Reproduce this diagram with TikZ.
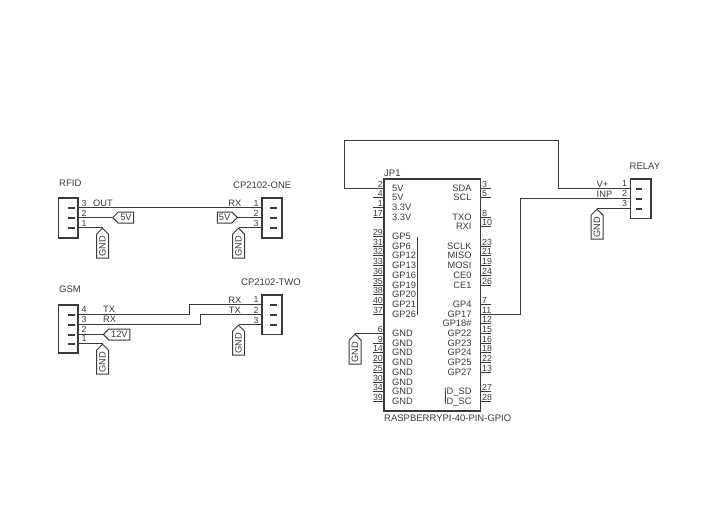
\documentclass[tikz,border=0pt]{standalone}
\usepackage{fontspec}
\setmainfont{Liberation Sans}
\usetikzlibrary{shapes.symbols}
\definecolor{ink}{HTML}{3A3A3A}
\tikzset{
  wire/.style={draw=ink,line width=1pt},
  body/.style={draw=ink,line width=1.35pt},
  dashpin/.style={draw=ink,line width=2pt},
  txt/.style={text=ink,inner sep=0pt,font=\fontsize{9.3}{10}\selectfont},
  num/.style={text=ink,inner sep=0pt,font=\fontsize{8.8}{10}\selectfont},
  title/.style={text=ink,inner sep=0pt,font=\fontsize{9.5}{10}\selectfont},
  tagbase/.style={shape=signal,draw=ink,line width=1pt,text=ink,inner sep=0pt,font=\fontsize{9.3}{10}\selectfont,signal from=nowhere},
  tagL/.style={tagbase,signal to=west,anchor=west,minimum height=11pt},
  tagR/.style={tagbase,signal to=east,anchor=east,minimum height=11pt},
  gnd/.style={tagbase,signal to=east,anchor=east,rotate=90,minimum height=12pt,minimum width=30pt},
}
\begin{document}
\begin{tikzpicture}[x=1pt,y=-1pt]
\useasboundingbox (0,0) rectangle (719,519);
% connector bodies
\node[body,minimum width=19.5pt,minimum height=40pt,inner sep=0pt] (rfid) at (68.2,218) {};
\node[body,minimum width=20pt,minimum height=40pt,inner sep=0pt] (cpone) at (272,218) {};
\node[body,minimum width=19.5pt,minimum height=48pt,inner sep=0pt] (gsm) at (68.2,329) {};
\node[body,minimum width=20pt,minimum height=39.5pt,inner sep=0pt] (cptwo) at (272,314.7) {};
\node[body,minimum width=20.3pt,minimum height=39.5pt,inner sep=0pt] (relay) at (640.8,198.6) {};
\node[body,minimum width=96.7pt,minimum height=232pt,inner sep=0pt] (jp) at (432.3,295) {};
% titles
\node[title,anchor=base west] (trfid) at (59,186.5) {RFID};
\node[title,anchor=base west] (tcpone) at (233,188.5) {CP2102-ONE};
\node[title,anchor=base west] (tgsm) at (59,292.5) {GSM};
\node[title,anchor=base west] (tcptwo) at (241,285.5) {CP2102-TWO};
\node[title,anchor=base west] (trelay) at (629.5,169.5) {RELAY};
\node[title,anchor=base west] (tjp) at (384,176) {JP1};
\node[title,anchor=base west] (tjpv) at (384,421.5) {RASPBERRYPI-40-PIN-GPIO};
% tags
\node[tagL,minimum width=21pt] (t5a) at (112,217.5) {5V};
\node[tagR,minimum width=20pt] (t5b) at (238,217.5) {5V};
\node[tagL,minimum width=26.5pt] (t12) at (102.7,334.5) {12V};
\node[gnd] (g1) at (102.5,227.5) {GND};
\node[gnd] (g2) at (238.5,227.5) {GND};
\node[gnd] (g3) at (102.5,343.5) {GND};
\node[gnd] (g4) at (238.5,324.5) {GND};
\node[gnd] (g5) at (597,208.5) {GND};
\node[gnd] (g6) at (355,333.5) {GND};
% small connector pins: coordinates on the wire side of each body
\foreach \y/\n in {207.5/a,217.5/b,227.5/c}{
  \coordinate (rfid\n) at (rfid.east |- 0,\y);
  \coordinate (cpone\n) at (cpone.west |- 0,\y);
  \draw[dashpin] (68,\y) -- (75,\y);
  \draw[dashpin] (270,\y) -- (277.3,\y);
}
\foreach \y/\n in {314.5/a,324.5/b,334.5/c,343.5/d}{
  \coordinate (gsm\n) at (gsm.east |- 0,\y);
  \draw[dashpin] (68,\y) -- (75,\y);
}
\foreach \y/\n in {304.5/a,314.5/b,324.5/c}{
  \coordinate (cptwo\n) at (cptwo.west |- 0,\y);
  \draw[dashpin] (270,\y) -- (277.3,\y);
}
\foreach \y/\n in {188.5/a,198.5/b,208.5/c}{
  \coordinate (relay\n) at (relay.west |- 0,\y);
  \draw[dashpin] (635.7,\y) -- (642,\y);
}
% pin numbers of small connectors
\foreach \t/\x/\y in {3/84/206,2/84/216,1/84/226, 4/84/312.5,3/84/322.5,2/84/332.5,1/84/341.8}
  \node[num,anchor=base] at (\x,\y) {\t};
\foreach \t/\x/\y in {1/256/206,2/256/216,3/256/226, 1/256/302.8,2/256/313.2,3/256/323.2, 1/624.5/186.8,2/624.5/196.5,3/624.5/206.5}
  \node[num,anchor=base] at (\x,\y) {\t};
% signal names on wires
\node[txt,anchor=base west] at (93,206.5) {OUT};
\node[txt,anchor=base east] at (241.5,206.5) {RX};
\node[txt,anchor=base west] at (103,312.5) {TX};
\node[txt,anchor=base west] at (103,322.5) {RX};
\node[txt,anchor=base east] at (241.5,303) {RX};
\node[txt,anchor=base east] at (241,313) {TX};
\node[txt,anchor=base west] at (596.5,187) {V+};
\node[txt,anchor=base west] at (596.5,197) {INP};
% wires
\draw[wire] (rfida) -- (cponea);
\draw[wire] (rfidb) -- (t5a.west);
\draw[wire] (rfidc) -- (g1.east);
\draw[wire] (t5b.east) -- (cponeb);
\draw[wire] (g2.east) -- (cponec);
\draw[wire] (gsma) -- (189.5,314.5) -- (189.5,304.5) -- (cptwoa);
\draw[wire] (gsmb) -- (200.5,324.5) -- (200.5,314.5) -- (cptwob);
\draw[wire] (gsmc) -- (t12.west);
\draw[wire] (gsmd) -- (g3.east);
\draw[wire] (g4.east) -- (cptwoc);
\draw[wire] (g5.east) -- (relayc);
% JP1 left pins
\foreach \n/\y/\s in {2/188.5/5V,4/197.5/5V,1/207.5/3.3V,17/217.5/3.3V,
  29/236.5/GP5,31/246.5/GP6,32/255.5/GP12,33/265.5/GP13,36/275.5/GP16,35/285.5/GP19,
  38/294.5/GP20,40/304.5/GP21,37/314.5/GP26,
  6/333.5/GND,9/343.5/GND,14/352.5/GND,20/362.5/GND,25/372.5/GND,30/382.5/GND,34/391.5/GND,39/401.5/GND}{
  \coordinate (l\n) at (jp.west |- 0,\y);
  \draw[wire] (l\n) -- ++(-10,0);
  \node[num,anchor=base east] at (383,\y-1.2) {\n};
  \node[txt,anchor=base west] at (392,\y+3.2) {\s};
}
% JP1 right pins
\foreach \n/\y/\s in {3/188.5/SDA,5/197.5/SCL,8/217.5/TXO,10/226.5/RXI,
  23/246.5/SCLK,21/255.5/MISO,19/265.5/MOSI,24/275.5/CE0,26/285.5/CE1,
  7/304.5/GP4,11/314.5/GP17,12/323.5/GP18\#,15/333.5/GP22,16/343.5/GP23,18/352.5/GP24,22/362.5/GP25,13/372.5/GP27,
  27/391.5/ID\_SD,28/401.5/ID\_SC}{
  \coordinate (r\n) at (jp.east |- 0,\y);
  \draw[wire] (r\n) -- ++(10,0);
  \node[num,anchor=base west] at (482,\y-1.2) {\n};
  \node[txt,anchor=base east] at (471.7,\y+3.2) {\s};
}
\draw[wire] (417.5,236.7) -- (417.5,315);
\draw[wire] (445.5,391.7) -- (445.5,401.7);
% JP1 external wires
\draw[wire] (l2) -- (344.5,188.5) -- (344.5,140.5) -- (558.5,140.5) -- (558.5,188.5) -- (relaya);
\draw[wire] (r11) -- (520.5,314.5) -- (520.5,198.5) -- (relayb);
\draw[wire] (l6) -- (g6.east);
\end{tikzpicture}
\end{document}
